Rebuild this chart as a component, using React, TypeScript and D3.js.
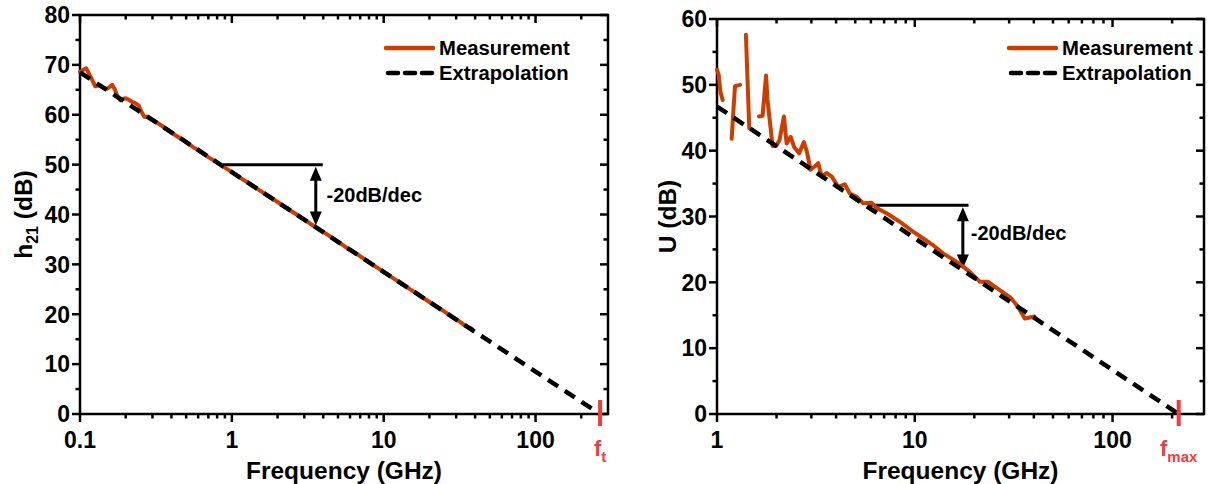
import { useEffect, useRef } from 'react';
import * as d3 from 'd3';

// left panel: current gain h21
const h21Freq = [0.1, 0.105, 0.11, 0.118, 0.126, 0.135, 0.143, 0.15, 0.157, 0.163, 0.17, 0.177, 0.184, 0.19, 0.197, 0.204, 0.212, 0.22, 0.23, 0.243, 0.255, 0.265, 0.28, 0.3, 0.33, 0.37, 0.42, 0.48, 0.55, 0.62, 0.7, 0.8, 0.9, 1.0, 1.2, 1.4, 1.7, 2.0, 2.4, 2.8, 3.3, 4.0, 4.8, 5.6, 6.5, 7.5, 8.7, 10, 12, 14, 16, 19, 22, 25, 28, 31, 34, 36, 38];
const h21Meas = [68.6, 69.0, 69.3, 67.5, 65.7, 65.9, 65.4, 65.2, 65.6, 66.0, 65.0, 63.5, 62.9, 63.1, 63.3, 63.2, 62.9, 62.6, 62.4, 61.9, 60.5, 59.6, 59.6, 59.0, 58.2, 57.2, 56.0, 54.9, 53.6, 52.6, 51.5, 50.4, 49.4, 48.5, 46.9, 45.6, 43.9, 42.5, 40.9, 39.6, 38.1, 36.5, 34.9, 33.5, 32.3, 31.0, 29.7, 28.5, 26.9, 25.6, 24.4, 22.9, 21.6, 20.6, 19.5, 18.7, 17.8, 17.4, 17.1];
const h21ExtFreq = [0.1, 266];
const h21ExtDb = [68.5, 0];

// right panel: unilateral gain U (null = gap in the trace)
const uFreq = [1.0, 1.02, 1.04, 1.068, 1.1, 1.186, 1.21, 1.233, 1.307, 1.35, 1.4, 1.456, 1.55, 1.63, 1.7, 1.77, 1.8, 1.91, 1.99, 2.07, 2.18, 2.25, 2.36, 2.45, 2.6, 2.75, 2.85, 2.97, 3.12, 3.25, 3.38, 3.58, 3.8, 4.1, 4.43, 4.69, 5.08, 5.49, 6.04, 6.41, 7.2, 8.4, 9.8, 11.0, 12.3, 13.9, 16.3, 19.0, 21.3, 23.4, 26.9, 30.7, 33.2, 36.0, 40.3];
const uMeas = [52.3, 51.5, 49.0, 47.7, null, 41.8, 46.0, 49.8, 50.0, null, 57.6, 43.4, null, 45.2, 45.3, 51.4, 47.7, 40.7, 40.7, 41.6, 45.2, 41.1, 42.1, 40.6, 39.6, 41.3, 39.8, 37.1, 37.6, 38.1, 36.1, 36.6, 36.1, 34.5, 34.9, 33.5, 33.0, 32.0, 32.1, 31.3, 30.5, 29.2, 27.7, 26.7, 25.7, 24.4, 23.1, 21.6, 20.1, 20.1, 18.8, 17.6, 16.3, 14.5, 14.8];
const uExtFreq = [1, 216];
const uExtDb = [46.7, 0];

const h21Ticks = [0, 10, 20, 30, 40, 50, 60, 70, 80];
const uTicks = [0, 10, 20, 30, 40, 50, 60];
const h21FreqTicks = [0.1, 1, 10, 100];
const uFreqTicks = [1, 10, 100];

const ORANGE = '#cc3d00';
const RED = '#f03c3c';
const FONT = '"Liberation Sans", Arial, sans-serif';

type PanelProps = {
  x0: number; x1: number; y0: number; y1: number;
  fDomain: [number, number]; dbMax: number;
  freq: number[]; meas: (number | null)[];
  extFreq: number[]; extDb: number[];
  yTicks: number[]; xTicks: number[];
  yTitle: string; ySub: string; yTitleX: number;
  markLabel: string;
  slope: { f0: number; f1: number; fArrow: number; db: number; dbEnd: number; fText: number; dbText: number };
  legendX: number;
};

const Panel = (p: PanelProps) => {
  const gRef = useRef<SVGGElement>(null);

  useEffect(() => {
    const g = d3.select(gRef.current);
    g.selectAll('*').remove();

    const x = d3.scaleLog().domain(p.fDomain).range([p.x0, p.x1]);
    const y = d3.scaleLinear().domain([0, p.dbMax]).range([p.y0, p.y1]);

    // minor ticks for log axis
    const minor: number[] = [];
    for (let dec = p.fDomain[0]; dec < p.fDomain[1]; dec *= 10) {
      for (let k = 2; k <= 9; k++) {
        const v = dec * k;
        if (v < p.fDomain[1] * 0.999) minor.push(v);
      }
    }
    const yMinor = d3.range(5, p.dbMax, 10);

    const ax = g.append('g').attr('stroke', '#000').attr('stroke-width', 2.5);
    // bottom ticks (out)
    p.xTicks.forEach(v => ax.append('line').attr('x1', x(v)).attr('x2', x(v)).attr('y1', p.y0).attr('y2', p.y0 + 8));
    minor.forEach(v => ax.append('line').attr('x1', x(v)).attr('x2', x(v)).attr('y1', p.y0).attr('y2', p.y0 + 4.5));
    // top ticks (in)
    p.xTicks.forEach(v => ax.append('line').attr('x1', x(v)).attr('x2', x(v)).attr('y1', p.y1).attr('y2', p.y1 + 8));
    minor.forEach(v => ax.append('line').attr('x1', x(v)).attr('x2', x(v)).attr('y1', p.y1).attr('y2', p.y1 + 4.5));
    // left ticks (out)
    p.yTicks.forEach(v => ax.append('line').attr('x1', p.x0 - 8).attr('x2', p.x0).attr('y1', y(v)).attr('y2', y(v)));
    yMinor.forEach(v => ax.append('line').attr('x1', p.x0 - 4.5).attr('x2', p.x0).attr('y1', y(v)).attr('y2', y(v)));
    // right ticks (in)
    p.yTicks.forEach(v => ax.append('line').attr('x1', p.x1 - 8).attr('x2', p.x1).attr('y1', y(v)).attr('y2', y(v)));
    yMinor.forEach(v => ax.append('line').attr('x1', p.x1 - 4.5).attr('x2', p.x1).attr('y1', y(v)).attr('y2', y(v)));

    ax.append('rect')
      .attr('x', p.x0).attr('y', p.y1)
      .attr('width', p.x1 - p.x0).attr('height', p.y0 - p.y1)
      .attr('fill', 'none');

    // tick labels
    const lab = g.append('g').attr('font-family', FONT).attr('font-weight', 'bold').attr('font-size', 23).attr('fill', '#000');
    p.yTicks.forEach(v => lab.append('text').attr('x', p.x0 - 10).attr('y', y(v)).attr('dy', '0.36em').attr('text-anchor', 'end').text(v));
    p.xTicks.forEach(v => lab.append('text').attr('x', x(v)).attr('y', p.y0 + 34).attr('text-anchor', 'middle').text(v));

    // axis titles
    g.append('text')
      .attr('x', (p.x0 + p.x1) / 2).attr('y', p.y0 + 65)
      .attr('text-anchor', 'middle')
      .attr('font-family', FONT).attr('font-weight', 'bold').attr('font-size', 24.5)
      .text('Frequency (GHz)');

    const yt = g.append('text')
      .attr('transform', `translate(${p.yTitleX}, ${(p.y0 + p.y1) / 2}) rotate(-90)`)
      .attr('text-anchor', 'middle')
      .attr('font-family', FONT).attr('font-weight', 'bold').attr('font-size', 24.5);
    yt.append('tspan').text(p.yTitle);
    if (p.ySub) {
      yt.append('tspan').attr('font-size', 16).attr('dy', 6).text(p.ySub);
      yt.append('tspan').attr('dy', -6).text(' (dB)');
    } else {
      yt.append('tspan').text(' (dB)');
    }

    // slope annotation
    const s = p.slope;
    g.append('line')
      .attr('x1', x(s.f0)).attr('x2', x(s.f1)).attr('y1', y(s.db)).attr('y2', y(s.db))
      .attr('stroke', '#000').attr('stroke-width', 3);
    const ya = y(s.db) + 2, yb = y(s.dbEnd) - 2, xa = x(s.fArrow);
    g.append('line').attr('x1', xa).attr('x2', xa).attr('y1', ya + 10).attr('y2', yb - 10)
      .attr('stroke', '#000').attr('stroke-width', 3);
    g.append('path').attr('d', `M${xa},${ya} L${xa - 6},${ya + 14} L${xa + 6},${ya + 14} Z`).attr('fill', '#000');
    g.append('path').attr('d', `M${xa},${yb} L${xa - 6},${yb - 14} L${xa + 6},${yb - 14} Z`).attr('fill', '#000');
    g.append('text').attr('x', x(s.fText)).attr('y', y(s.dbText)).attr('dy', '0.36em')
      .attr('font-family', FONT).attr('font-weight', 'bold').attr('font-size', 20)
      .text('-20dB/dec');

    // data
    const line = d3.line<[number, number | null]>()
      .defined(d => d[1] != null)
      .x(d => x(d[0]))
      .y(d => y(d[1] as number));

    g.append('path')
      .datum(p.freq.map((f, i) => [f, p.meas[i]] as [number, number | null]))
      .attr('d', line)
      .attr('fill', 'none').attr('stroke', ORANGE).attr('stroke-width', 4)
      .attr('stroke-linejoin', 'round').attr('stroke-linecap', 'round');

    g.append('path')
      .datum(p.extFreq.map((f, i) => [f, p.extDb[i]] as [number, number | null]))
      .attr('d', line)
      .attr('fill', 'none').attr('stroke', '#000').attr('stroke-width', 4.5)
      .attr('stroke-dasharray', '12,8');

    // cutoff marker
    const fc = p.extFreq[p.extFreq.length - 1];
    g.append('line').attr('x1', x(fc)).attr('x2', x(fc)).attr('y1', p.y0 - 14).attr('y2', p.y0 + 12)
      .attr('stroke', RED).attr('stroke-width', 4);
    const ft = g.append('text').attr('x', x(fc)).attr('y', p.y0 + 42).attr('text-anchor', 'middle')
      .attr('font-family', FONT).attr('font-weight', 'bold').attr('font-size', 22).attr('fill', RED);
    ft.append('tspan').text('f');
    ft.append('tspan').attr('font-size', 15).attr('dy', 6).text(p.markLabel);

    // legend
    const lg = g.append('g').attr('font-family', FONT).attr('font-weight', 'bold').attr('font-size', 20.3);
    lg.append('line').attr('x1', p.legendX).attr('x2', p.legendX + 47).attr('y1', 48).attr('y2', 48)
      .attr('stroke', ORANGE).attr('stroke-width', 4.5).attr('stroke-linecap', 'round');
    lg.append('text').attr('x', p.legendX + 53).attr('y', 48).attr('dy', '0.36em').text('Measurement');
    lg.append('line').attr('x1', p.legendX + 2).attr('x2', p.legendX + 47).attr('y1', 73).attr('y2', 73)
      .attr('stroke', '#000').attr('stroke-width', 4.5).attr('stroke-dasharray', '10,7').attr('stroke-linecap', 'round');
    lg.append('text').attr('x', p.legendX + 53).attr('y', 73).attr('dy', '0.36em').text('Extrapolation');
  }, []);

  return <g ref={gRef} />;
};

export default function App() {
  return (
    <svg width={1208} height={484} style={{ position: 'absolute', left: 0, top: 0, background: '#fff' }}>
      <Panel
        x0={80} x1={608} y0={414} y1={15}
        fDomain={[0.1, 300]} dbMax={80}
        freq={h21Freq} meas={h21Meas}
        extFreq={h21ExtFreq} extDb={h21ExtDb}
        yTicks={h21Ticks} xTicks={h21FreqTicks}
        yTitle="h" ySub="21" yTitleX={32}
        markLabel="t"
        slope={{ f0: 0.87, f1: 3.97, fArrow: 3.57, db: 50, dbEnd: 37.4, fText: 4.2, dbText: 44 }}
        legendX={386}
      />
      <Panel
        x0={717} x1={1204} y0={414} y1={19}
        fDomain={[1, 290]} dbMax={60}
        freq={uFreq} meas={uMeas}
        extFreq={uExtFreq} extDb={uExtDb}
        yTicks={uTicks} xTicks={uFreqTicks}
        yTitle="U" ySub="" yTitleX={676}
        markLabel="max"
        slope={{ f0: 5.8, f1: 18.7, fArrow: 17.5, db: 31.7, dbEnd: 21.8, fText: 19.2, dbText: 27.5 }}
        legendX={1009}
      />
    </svg>
  );
}
